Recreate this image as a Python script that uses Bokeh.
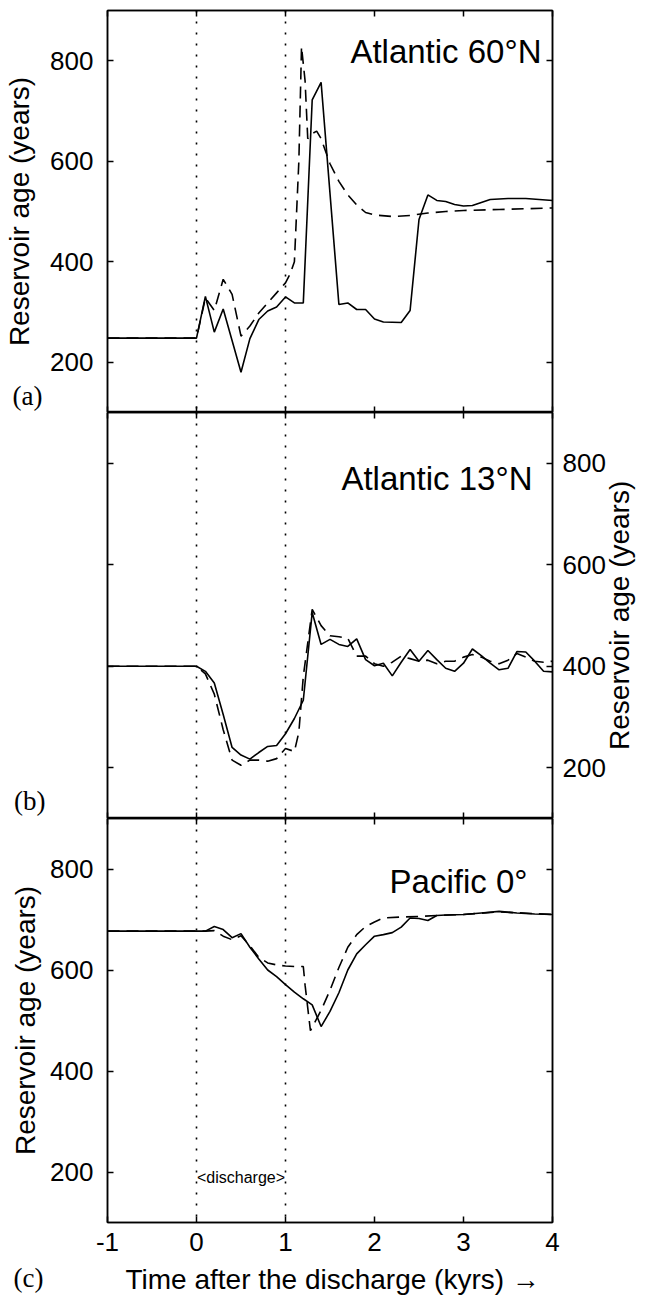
import math
from bokeh.plotting import figure
from bokeh.models import Range1d, LinearAxis, Span, Label, FixedTicker, Grid
from bokeh.layouts import column
from bokeh.embed import file_html
from bokeh.resources import INLINE

# ---------------- data ----------------
x_ticks = [-1, 0, 1, 2, 3, 4]
y_ticks = [200, 400, 600, 800]
panel_titles = ["Atlantic 60°N", "Atlantic 13°N", "Pacific 0°"]
panel_tags = ["(a)", "(b)", "(c)"]
y_label = "Reservoir age (years)"
x_label = "Time after the discharge (kyrs) \u2192"
discharge_start = 0
discharge_end = 1

a_solid_t = [-1.0, 0.0, 0.1, 0.2, 0.3, 0.5, 0.6, 0.7, 0.8, 0.9, 1.0, 1.1, 1.2, 1.3, 1.4, 1.6, 1.7, 1.8, 1.9, 2.0, 2.1, 2.3, 2.4, 2.5, 2.6, 2.7, 2.8, 2.9, 3.0, 3.1, 3.2, 3.3, 3.5, 3.7, 3.85, 4.0]
a_solid_v = [248, 248, 331, 260, 306, 180, 247, 285, 302, 310, 330, 318, 318, 722, 757, 315, 318, 305, 305, 286, 280, 279, 303, 484, 533, 522, 520, 514, 511, 512, 518, 524, 526, 526, 524, 522]
a_dash_t = [-1.0, 0.0, 0.1, 0.2, 0.3, 0.4, 0.5, 0.6, 0.7, 0.8, 0.9, 1.0, 1.05, 1.1, 1.15, 1.18, 1.22, 1.25, 1.3, 1.35, 1.4, 1.5, 1.6, 1.7, 1.8, 1.9, 2.0, 2.2, 2.4, 2.6, 2.8, 3.0, 3.4, 4.0]
a_dash_v = [248, 248, 328, 303, 365, 335, 252, 272, 298, 318, 338, 358, 375, 400, 600, 828, 760, 645, 655, 660, 645, 595, 560, 533, 513, 498, 493, 490, 492, 497, 500, 502, 504, 507]

b_solid_t = [-1.0, 0.0, 0.1, 0.2, 0.3, 0.4, 0.5, 0.6, 0.7, 0.8, 0.9, 1.0, 1.1, 1.2, 1.3, 1.4, 1.5, 1.6, 1.7, 1.8, 1.9, 2.0, 2.1, 2.2, 2.3, 2.4, 2.5, 2.6, 2.7, 2.8, 2.9, 3.0, 3.1, 3.2, 3.3, 3.4, 3.5, 3.6, 3.7, 3.8, 3.9, 4.0]
b_solid_v = [400, 400, 390, 367, 305, 240, 225, 217, 230, 242, 244, 267, 297, 333, 506, 443, 453, 443, 439, 454, 413, 401, 406, 381, 408, 433, 410, 431, 413, 396, 390, 406, 434, 421, 406, 393, 396, 429, 428, 410, 390, 389]
b_dash_t = [-1.0, 0.0, 0.1, 0.2, 0.3, 0.4, 0.5, 0.6, 0.7, 0.8, 0.9, 1.0, 1.1, 1.15, 1.2, 1.3, 1.4, 1.5, 1.6, 1.7, 1.8, 1.9, 2.0, 2.1, 2.2, 2.3, 2.4, 2.5, 2.6, 2.7, 2.8, 2.9, 3.0, 3.1, 3.2, 3.3, 3.4, 3.5, 3.6, 3.7, 3.8, 3.9, 4.0]
b_dash_v = [400, 400, 385, 345, 275, 215, 205, 215, 215, 213, 218, 238, 232, 270, 380, 512, 480, 460, 458, 455, 420, 420, 405, 400, 408, 420, 415, 410, 412, 405, 410, 410, 418, 423, 418, 410, 405, 412, 425, 418, 410, 408, 410]

c_solid_t = [-1.0, 0.0, 0.1, 0.2, 0.3, 0.4, 0.5, 0.6, 0.7, 0.8, 0.9, 1.0, 1.1, 1.2, 1.3, 1.4, 1.5, 1.6, 1.7, 1.8, 1.9, 2.0, 2.1, 2.2, 2.3, 2.4, 2.5, 2.6, 2.7, 2.8, 3.0, 3.2, 3.4, 3.6, 3.8, 4.0]
c_solid_v = [677, 677, 677, 686, 680, 664, 672, 645, 622, 600, 587, 571, 556, 543, 531, 488, 518, 555, 600, 632, 650, 667, 670, 674, 685, 703, 702, 698, 708, 709, 710, 713, 716, 713, 711, 710]
c_dash_t = [-1.0, 0.0, 0.1, 0.2, 0.3, 0.4, 0.5, 0.6, 0.7, 0.8, 0.9, 1.0, 1.1, 1.2, 1.22, 1.28, 1.4, 1.5, 1.6, 1.7, 1.8, 1.9, 2.0, 2.1, 2.3, 2.5, 2.7, 3.0, 3.4, 4.0]
c_dash_v = [677, 677, 677, 678, 667, 660, 668, 648, 625, 614, 610, 608, 607, 607, 570, 480, 520, 560, 605, 645, 670, 686, 695, 703, 705, 706, 708, 710, 715, 710]

# ---------------- styling ----------------
TICK_FONT = "Liberation Sans"
TEXT_FONT = "Liberation Sans"
SERIF_FONT = "Liberation Serif"
FW = 445
xr = Range1d(-1, 4)


def style_axis_label(ax, text, standoff):
    ax.axis_label = text
    ax.axis_label_text_font = TEXT_FONT
    ax.axis_label_text_font_size = "28px"
    ax.axis_label_text_font_style = "normal"
    ax.axis_label_text_color = "black"
    ax.axis_label_standoff = standoff


def make_axis(ticks, labels=True, standoff=10):
    ax = LinearAxis(
        ticker=FixedTicker(ticks=ticks),
        major_tick_in=6, major_tick_out=0,
        minor_tick_line_color=None,
        axis_line_width=1.5, axis_line_color="black",
        major_tick_line_width=1.5, major_tick_line_color="black",
        major_label_text_font=TICK_FONT,
        major_label_standoff=standoff if labels else 0,
    )
    if labels:
        ax.major_label_text_font_size = "26px"
        ax.major_label_text_color = "black"
        ax.major_label_overrides = {t: str(t) for t in ticks}
    else:
        ax.major_label_text_font_size = "1px"
        ax.major_label_text_color = None
    return ax


def text_axis(text, at, standoff, font=SERIF_FONT, size="27px", orientation="horizontal"):
    ax = LinearAxis(
        ticker=FixedTicker(ticks=[at]),
        major_label_overrides={at: text},
        major_tick_in=0, major_tick_out=0,
        major_tick_line_color=None, minor_tick_line_color=None,
        axis_line_color=None,
        major_label_text_font=font,
        major_label_text_font_size=size,
        major_label_text_color="black",
        major_label_standoff=standoff,
        major_label_orientation=orientation,
    )
    return ax


def make_panel(frame_h, top, bottom, st, sv, dt, dv, title, title_y, title_off):
    p = figure(frame_width=FW, frame_height=frame_h, x_range=xr,
               y_range=Range1d(100, 900), output_backend="svg",
               toolbar_location=None, x_axis_location=None, y_axis_location=None,
               min_border_left=106, min_border_right=95,
               min_border_top=top, min_border_bottom=bottom)
    p.outline_line_color = "black"
    p.outline_line_width = 1.5
    p.background_fill_color = "white"
    p.border_fill_color = "white"
    for r in list(p.center):
        if isinstance(r, Grid):
            r.visible = False

    for xv in (discharge_start, discharge_end):
        p.add_layout(Span(location=xv, dimension="height", line_color="black",
                          line_width=1.6, line_dash="2 9"))

    p.line(st, sv, line_color="black", line_width=1.6)
    p.line(dt, dv, line_color="black", line_width=1.6, line_dash="12 7")

    p.add_layout(Label(x=4, y=title_y, x_offset=title_off, text=title,
                       text_align="right", text_baseline="alphabetic",
                       text_font=TEXT_FONT, text_font_size="33px",
                       text_color="black"))
    p.add_layout(make_axis(x_ticks, False), "above")
    return p


# ---- panel (a)
pa = make_panel(402, 10, 0, a_solid_t, a_solid_v, a_dash_t, a_dash_v,
                panel_titles[0], 818, -11)
pa.add_layout(make_axis(y_ticks, True, 14), "left")
ta = text_axis(panel_tags[0], 132, 5)
style_axis_label(ta, y_label, -25)
pa.add_layout(ta, "left")
pa.add_layout(make_axis(y_ticks, False), "right")
pa.add_layout(make_axis(x_ticks, False), "below")

# ---- panel (b)
pb = make_panel(406, 0, 0, b_solid_t, b_solid_v, b_dash_t, b_dash_v,
                panel_titles[1], 769, -20)
pb.add_layout(make_axis(y_ticks, False), "left")
pb.add_layout(text_axis(panel_tags[1], 134, 62), "left")
pb.add_layout(make_axis(y_ticks, True, 10), "right")
pb.add_layout(text_axis(y_label, 504, 11, TEXT_FONT, "28px", math.pi / 2), "right")
pb.add_layout(make_axis(x_ticks, False), "below")

# ---- panel (c)
pc = make_panel(404, 0, 41, c_solid_t, c_solid_v, c_dash_t, c_dash_v,
                panel_titles[2], 775, -25)
lc = make_axis(y_ticks, True, 14)
style_axis_label(lc, y_label, 6)
pc.add_layout(lc, "left")
pc.add_layout(make_axis(y_ticks, False), "right")
pc.add_layout(make_axis(x_ticks, True, 10), "below")
pc.add_layout(Label(x=0.5, y=190, text="<discharge>", text_align="center",
                    text_baseline="middle", text_font=TEXT_FONT,
                    text_font_size="16px", text_color="black"))

# ---- strip under panel (c): panel tag and x-axis title
strip = figure(frame_width=FW, frame_height=32, x_range=xr, y_range=Range1d(0, 32),
               output_backend="svg", toolbar_location=None,
               x_axis_location=None, y_axis_location=None,
               min_border_left=106, min_border_right=95,
               min_border_top=0, min_border_bottom=0)
strip.outline_line_color = None
for r in list(strip.center):
    if isinstance(r, Grid):
        r.visible = False
strip.add_layout(text_axis(panel_tags[2], 12, 64), "left")
strip.add_layout(Label(x=1.53, y=16, text=x_label, text_align="center",
                       text_baseline="middle", text_font=TEXT_FONT,
                       text_font_size="28px", text_color="black"))

layout = column(pa, pb, pc, strip, spacing=0)
open("out.html", "w").write(file_html(layout, INLINE))
